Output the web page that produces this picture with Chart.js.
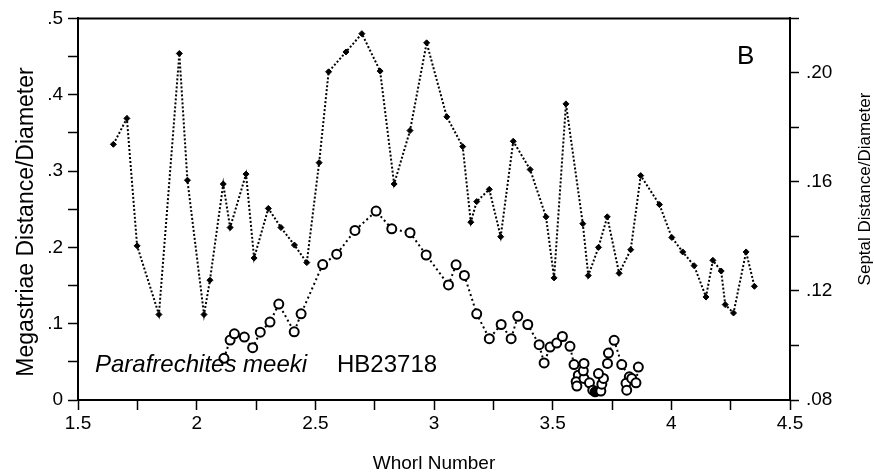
<!DOCTYPE html>
<html>
<head>
<meta charset="utf-8">
<script src="https://cdn.jsdelivr.net/npm/chart.js@4"></script>
<style>
  html, body { margin: 0; padding: 0; background: #fff; }
</style>
</head>
<body>
<canvas id="myChart" width="874" height="474"></canvas>
<script>
// megastriae distance / diameter (left axis)
var megaWhorl = [1.649, 1.706, 1.749, 1.841, 1.927, 1.961, 2.031, 2.056, 2.112, 2.141,
  2.208, 2.242, 2.302, 2.355, 2.412, 2.464, 2.516, 2.556, 2.629, 2.696,
  2.773, 2.832, 2.899, 2.969, 3.054, 3.121, 3.155, 3.180, 3.233, 3.281,
  3.334, 3.405, 3.472, 3.506, 3.556, 3.627, 3.650, 3.693, 3.730, 3.780,
  3.829, 3.871, 3.950, 4.002, 4.048, 4.096, 4.146, 4.175, 4.210, 4.227,
  4.262, 4.315, 4.350];
var megastriae = [.335, .369, .202, .112, .454, .288, .112, .157, .283, .226,
  .296, .186, .251, .226, .203, .180, .311, .430, .456, .480,
  .431, .283, .353, .468, .371, .332, .233, .260, .276, .214,
  .339, .302, .240, .160, .388, .231, .163, .200, .240, .166,
  .197, .294, .256, .213, .194, .176, .135, .183, .169, .125,
  .114, .194, .149];

// septal distance / diameter (right axis)
var septalWhorl = [2.115, 2.141, 2.159, 2.201, 2.236, 2.268, 2.309, 2.346, 2.411, 2.440,
  2.531, 2.590, 2.667, 2.756, 2.822, 2.899, 2.967, 3.061, 3.093, 3.128,
  3.180, 3.233, 3.283, 3.325, 3.353, 3.395, 3.443, 3.464, 3.489, 3.517,
  3.541, 3.573, 3.590, 3.608, 3.599, 3.602, 3.632, 3.629, 3.632, 3.655,
  3.669, 3.679, 3.703, 3.707, 3.714, 3.693, 3.731, 3.735, 3.759, 3.791,
  3.823, 3.809, 3.812, 3.833, 3.851, 3.861];
var septal = [.0953, .1020, .1043, .1031, .0992, .1049, .1086, .1152, .1050, .1116,
  .1297, .1335, .1422, .1493, .1428, .1414, .1332, .1222, .1296, .1257,
  .1116, .1025, .1077, .1025, .1107, .1077, .1003, .0936, .0994, .1009,
  .1033, .0997, .0930, .0891, .0867, .0851, .0879, .0907, .0934, .0863,
  .0836, .0830, .0833, .0858, .0879, .0897, .0934, .0972, .1019, .0930,
  .0885, .0861, .0836, .0879, .0863, .0921];

var xTickLabels = ['1.5', '2', '2.5', '3', '3.5', '4', '4.5'];
var leftTickLabels = ['0', '.1', '.2', '.3', '.4', '.5'];
var rightTickLabels = ['.08', '.12', '.16', '.20'];

function pickLabel(list) {
  return function(value) {
    for (var i = 0; i < list.length; i++) {
      if (Math.abs(parseFloat(list[i]) - value) < 1e-6) return list[i];
    }
    return '';
  };
}

function toPoints(xs, ys) {
  return xs.map(function(x, i) { return {x: x, y: ys[i]}; });
}

var FONT = '"Liberation Sans", Arial, sans-serif';

var textPlugin = {
  id: 'textPlugin',
  afterDraw: function(chart) {
    var c = chart.ctx, a = chart.chartArea;
    c.save();
    // top frame line
    c.strokeStyle = '#000';
    c.lineWidth = 2;
    c.beginPath();
    c.moveTo(a.left, a.top);
    c.lineTo(a.right, a.top);
    c.stroke();

    c.fillStyle = '#000';
    c.textBaseline = 'alphabetic';

    c.textAlign = 'center';
    c.font = '19px ' + FONT;
    c.fillText('Whorl Number', 434, 469);

    c.save();
    c.translate(33, 222);
    c.rotate(-Math.PI / 2);
    c.font = '23px ' + FONT;
    c.fillText('Megastriae Distance/Diameter', 0, 0);
    c.restore();

    c.save();
    c.translate(870, 189);
    c.rotate(-Math.PI / 2);
    c.font = '17px ' + FONT;
    c.fillText('Septal Distance/Diameter', 0, 0);
    c.restore();

    c.textAlign = 'left';
    c.font = '26px ' + FONT;
    c.fillText('B', 737, 64);
    c.font = 'italic 24px ' + FONT;
    c.fillText('Parafrechites meeki', 95, 372);
    c.font = '24px ' + FONT;
    c.fillText('HB23718', 337, 372);
    c.restore();
  }
};

var ctx = document.getElementById('myChart').getContext('2d');
var chart = new Chart(ctx, {
  type: 'scatter',
  data: {
    datasets: [{
      label: 'Megastriae Distance/Diameter',
      data: toPoints(megaWhorl, megastriae),
      yAxisID: 'y',
      showLine: true,
      borderColor: '#000',
      borderWidth: 2,
      borderDash: [2, 2],
      pointStyle: 'rectRot',
      pointRadius: 3,
      pointBackgroundColor: '#000',
      pointBorderColor: '#000',
      pointBorderWidth: 1
    }, {
      label: 'Septal Distance/Diameter',
      data: toPoints(septalWhorl, septal),
      yAxisID: 'y2',
      showLine: true,
      borderColor: '#000',
      borderWidth: 2,
      borderDash: [2, 3],
      pointStyle: 'circle',
      pointRadius: 4.5,
      pointBorderWidth: 2,
      pointBorderColor: '#000',
      pointBackgroundColor: function(c) { return c.dataIndex === 41 ? '#000' : '#fff'; }
    }]
  },
  options: {
    responsive: false,
    animation: false,
    devicePixelRatio: 1,
    layout: { padding: { top: 16, left: 0, right: 0, bottom: 0 } },
    plugins: { legend: { display: false }, tooltip: { enabled: false } },
    scales: {
      x: {
        type: 'linear', min: 1.5, max: 4.5,
        afterFit: function(s) { s.height = 74; },
        ticks: { stepSize: 0.25, callback: pickLabel(xTickLabels), color: '#000',
          font: { family: FONT, size: 19 }, maxRotation: 0, autoSkip: false, padding: 2 },
        grid: { drawOnChartArea: false, tickLength: 10, tickColor: '#000', tickWidth: 1.5 },
        border: { color: '#000', width: 2 }
      },
      y: {
        position: 'left', min: 0, max: 0.5,
        afterFit: function(s) { s.width = 78; },
        ticks: { stepSize: 0.05, callback: pickLabel(leftTickLabels), color: '#000',
          font: { family: FONT, size: 19 }, padding: 5, autoSkip: false },
        grid: { drawOnChartArea: false, tickLength: 10, tickColor: '#000', tickWidth: 1.5 },
        border: { color: '#000', width: 2 }
      },
      y2: {
        position: 'right', min: 0.08, max: 0.22,
        afterFit: function(s) { s.width = 84; },
        ticks: { stepSize: 0.02, callback: pickLabel(rightTickLabels), color: '#000',
          font: { family: FONT, size: 19 }, padding: 7, autoSkip: false },
        grid: { drawOnChartArea: false, tickLength: 9, tickColor: '#000', tickWidth: 1.5 },
        border: { color: '#000', width: 2 }
      }
    }
  },
  plugins: [textPlugin]
});
</script>
</body>
</html>
